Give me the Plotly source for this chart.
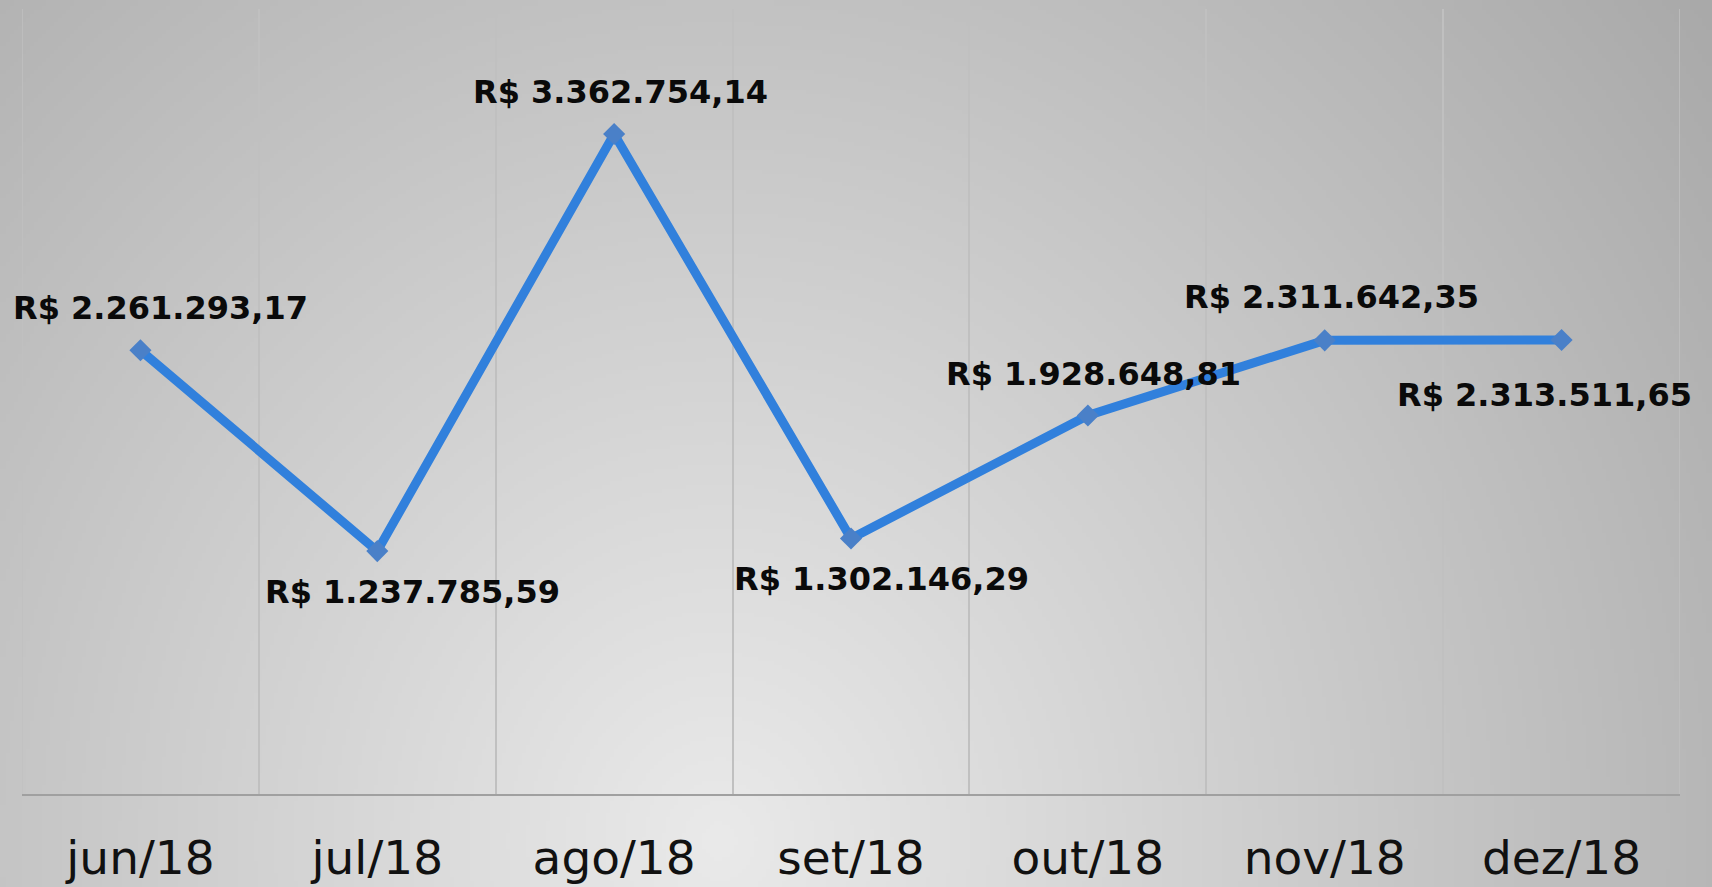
import base64
import struct
import zlib

import numpy as np
import plotly.graph_objects as go

# =============================================================================
# data
# =============================================================================
months = ["jun/18", "jul/18", "ago/18", "set/18", "out/18", "nov/18", "dez/18"]
values = [2261293.17, 1237785.59, 3362754.14, 1302146.29, 1928648.81, 2311642.35, 2313511.65]

# label offsets in pixels (dx, dy up)
label_shift = [(20, 42), (35, -41), (6, 42), (30, -41), (6, 42), (7, 43), (-17, -55)]

W, H = 1712, 887
ML, MR, MT, MB = 22, 32, 9, 93


def brl(v):
    s = "{:,.2f}".format(v)
    s = s.replace(",", "X").replace(".", ",").replace("X", ".")
    return "R$ " + s


def gradient_png(w, h):
    # radial gray background, lighter at bottom centre
    u = np.linspace(0, 1, w)[None, :]
    v = np.linspace(0, 1, h)[:, None]
    d = np.sqrt((88 * (u - 0.42)) ** 2 + (42 * (v - 0.95)) ** 2)
    img = np.clip(234 - d, 0, 255).astype(np.uint8)
    raw = b"".join(b"\x00" + img[r].tobytes() for r in range(h))

    def chunk(tag, data):
        c = struct.pack(">I", len(data)) + tag + data
        return c + struct.pack(">I", zlib.crc32(tag + data) & 0xffffffff)

    png = b"\x89PNG\r\n\x1a\n"
    png += chunk(b"IHDR", struct.pack(">IIBBBBB", w, h, 8, 0, 0, 0, 0))
    png += chunk(b"IDAT", zlib.compress(raw, 9))
    png += chunk(b"IEND", b"")
    return "data:image/png;base64," + base64.b64encode(png).decode()


# =============================================================================
# figure
# =============================================================================
fig = go.Figure()

fig.add_trace(go.Scatter(
    x=months, y=values, mode="lines+markers",
    line=dict(color="#3180dc", width=9),
    marker=dict(symbol="diamond", size=17, color="#4a80c8"),
    hoverinfo="skip",
))

for m, val, (dx, dy) in zip(months, values, label_shift):
    fig.add_annotation(
        x=m, y=val, text="<b>" + brl(val) + "</b>", showarrow=False,
        xshift=dx, yshift=dy,
        font=dict(family="DejaVu Sans", size=32, color="#0a0a0a"),
    )

# outer grid lines at the edges of the category range
for edge in (-0.5, 6.5):
    fig.add_vline(x=edge, line=dict(color="#c0c0c0", width=1.5), layer="below")

pw = W - ML - MR
ph = H - MT - MB
fig.add_layout_image(
    source=gradient_png(428, 222), xref="paper", yref="paper",
    x=-ML / pw, y=1 + MT / ph, sizex=W / pw, sizey=H / ph,
    xanchor="left", yanchor="top", sizing="stretch", layer="below",
)

fig.update_layout(
    width=W, height=H,
    margin=dict(l=ML, r=MR, t=MT, b=MB),
    paper_bgcolor="#d0d0d0",
    plot_bgcolor="rgba(0,0,0,0)",
    showlegend=False,
)
fig.update_xaxes(
    type="category", tickson="boundaries", range=[-0.5, 6.5],
    showgrid=True, gridcolor="#c0c0c0", gridwidth=1.5,
    showline=True, linecolor="#a0a0a0", linewidth=1.5,
    ticks="", ticklabelstandoff=22, automargin=False,
    tickfont=dict(family="DejaVu Sans", size=47, color="#111111"),
    zeroline=False,
)
fig.update_yaxes(
    range=[0, 4000000], showgrid=False, zeroline=False,
    showticklabels=False, showline=False, automargin=False,
)

fig.write_html("out.html", config={"displayModeBar": False},
               post_script="document.body.style.margin='0';")
